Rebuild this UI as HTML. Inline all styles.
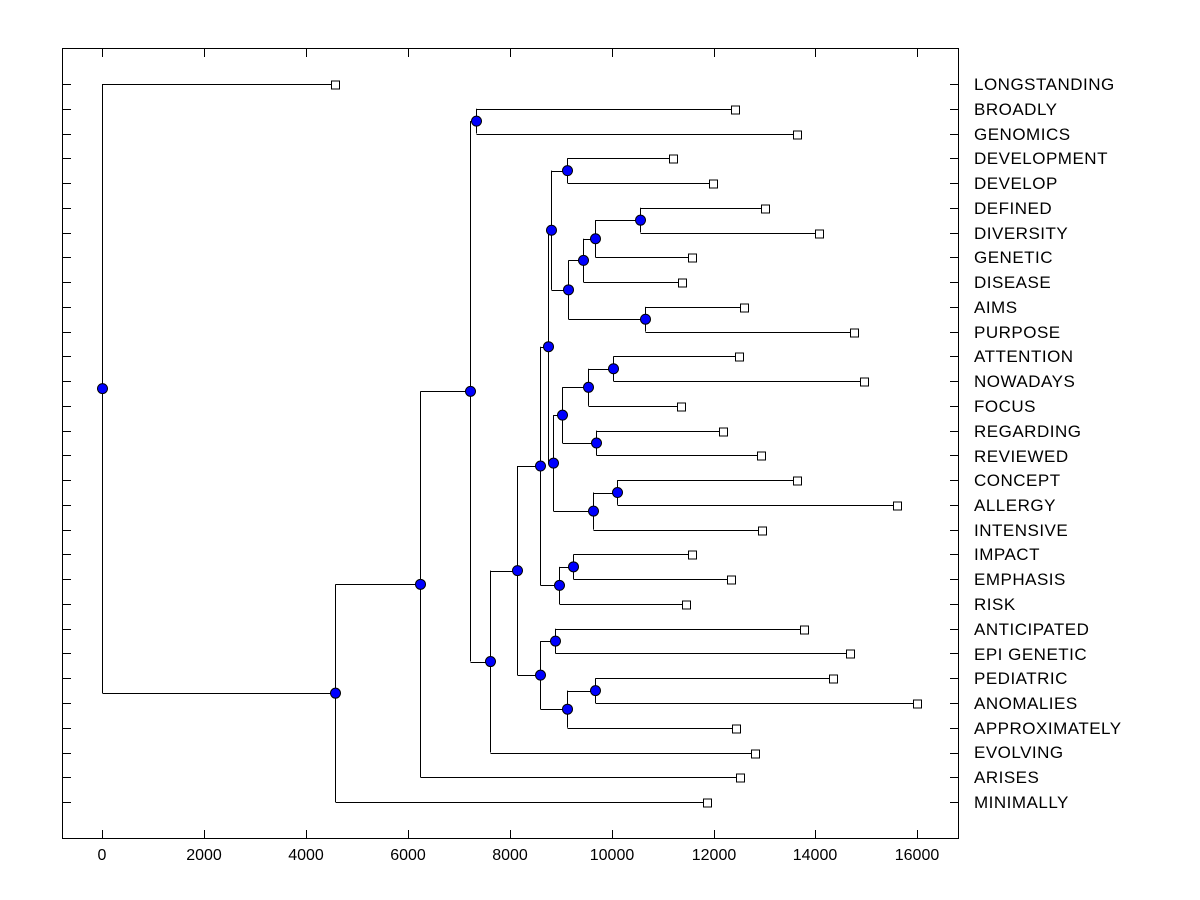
<!DOCTYPE html>
<html><head><meta charset="utf-8"><style>
html,body{margin:0;padding:0;background:#fff;}
svg{display:block;font-family:"Liberation Sans",Arial,sans-serif;}
</style></head><body>
<svg id="s" width="1200" height="900" xmlns="http://www.w3.org/2000/svg">
<rect x="62.5" y="48.5" width="896" height="790" fill="none" stroke="#000" stroke-width="1"/>
<g id="tree"></g>
<g font-size="17" letter-spacing="0.5" fill="#000">
<text x="974" y="90">LONGSTANDING</text>
<text x="974" y="115">BROADLY</text>
<text x="974" y="140">GENOMICS</text>
<text x="974" y="164">DEVELOPMENT</text>
<text x="974" y="189">DEVELOP</text>
<text x="974" y="214">DEFINED</text>
<text x="974" y="239">DIVERSITY</text>
<text x="974" y="263">GENETIC</text>
<text x="974" y="288">DISEASE</text>
<text x="974" y="313">AIMS</text>
<text x="974" y="338">PURPOSE</text>
<text x="974" y="362">ATTENTION</text>
<text x="974" y="387">NOWADAYS</text>
<text x="974" y="412">FOCUS</text>
<text x="974" y="437">REGARDING</text>
<text x="974" y="462">REVIEWED</text>
<text x="974" y="486">CONCEPT</text>
<text x="974" y="511">ALLERGY</text>
<text x="974" y="536">INTENSIVE</text>
<text x="974" y="560">IMPACT</text>
<text x="974" y="585">EMPHASIS</text>
<text x="974" y="610">RISK</text>
<text x="974" y="635">ANTICIPATED</text>
<text x="974" y="660">EPI GENETIC</text>
<text x="974" y="684">PEDIATRIC</text>
<text x="974" y="709">ANOMALIES</text>
<text x="974" y="734">APPROXIMATELY</text>
<text x="974" y="758">EVOLVING</text>
<text x="974" y="783">ARISES</text>
<text x="974" y="808">MINIMALLY</text>
</g>
<g font-size="16" text-anchor="middle" fill="#000">
<text x="102" y="860">0</text>
<text x="204" y="860">2000</text>
<text x="306" y="860">4000</text>
<text x="408" y="860">6000</text>
<text x="510" y="860">8000</text>
<text x="612" y="860">10000</text>
<text x="714" y="860">12000</text>
<text x="815" y="860">14000</text>
<text x="917" y="860">16000</text>
</g>
</svg>
<script>
var ns="http://www.w3.org/2000/svg",g=document.getElementById('tree');
function el(t,a){var e=document.createElementNS(ns,t);for(var k in a)e.setAttribute(k,a[k]);g.appendChild(e);return e;}
function ry(i){return 84+i*24.76;}
var circles=[],squares=[];
for(var i=0;i<30;i++){var y=Math.round(ry(i))+0.5;el('line',{x1:62,y1:y,x2:71,y2:y,stroke:'#000'});el('line',{x1:950,y1:y,x2:958,y2:y,stroke:'#000'});}
[102,204,306,408,510,612,714,815,917].forEach(function(x){x+=0.5;el('line',{x1:x,y1:49,x2:x,y2:57,stroke:'#000'});el('line',{x1:x,y1:830,x2:x,y2:838,stroke:'#000'});});
function L(i,x){return {leaf:1,i:i,x:x};}
function N(x,a,b){return {x:x,a:a,b:b};}
var tree=N(102,L(0,335),
 N(335,N(420,N(470,N(476,L(1,735),L(2,797)),
   N(490,N(517,
     N(540,
       N(548,
         N(551,N(567,L(3,673),L(4,713)),
               N(568,N(583,N(595,N(640,L(5,765),L(6,819)),L(7,692)),L(8,682)),N(645,L(9,744),L(10,854)))),
         N(553,N(562,N(588,N(613,L(11,739),L(12,864)),L(13,681)),N(596,L(14,723),L(15,761))),
               N(593,N(617,L(16,797),L(17,897)),L(18,762)))),
       N(559,N(573,L(19,692),L(20,731)),L(21,686))),
     N(540,N(555,L(22,804),L(23,850)),N(567,N(595,L(24,833),L(25,917)),L(26,736)))),
   L(27,755))),L(28,740)),L(29,707)));
function draw(n){
 if(n.leaf){n.y=ry(n.i);squares.push(n);return n.y;}
 var ya=draw(n.a),yb=draw(n.b);n.y=(ya+yb)/2;
 var x=n.x+0.5;
 el('line',{x1:x,y1:ya,x2:x,y2:yb,stroke:'#000'});
 el('line',{x1:x,y1:Math.round(ya)+0.5,x2:n.a.x,y2:Math.round(ya)+0.5,stroke:'#000'});
 el('line',{x1:x,y1:Math.round(yb)+0.5,x2:n.b.x,y2:Math.round(yb)+0.5,stroke:'#000'});
 circles.push(n);return n.y;
}
draw(tree);
squares.forEach(function(n){el('rect',{x:n.x-3.5,y:Math.round(n.y)-3,width:8,height:8,fill:'#fff',stroke:'#000'});});
circles.forEach(function(n){el('circle',{cx:n.x+0.5,cy:n.y,r:5,fill:'#0000ff',stroke:'#000'});});
</script>
</body></html>
